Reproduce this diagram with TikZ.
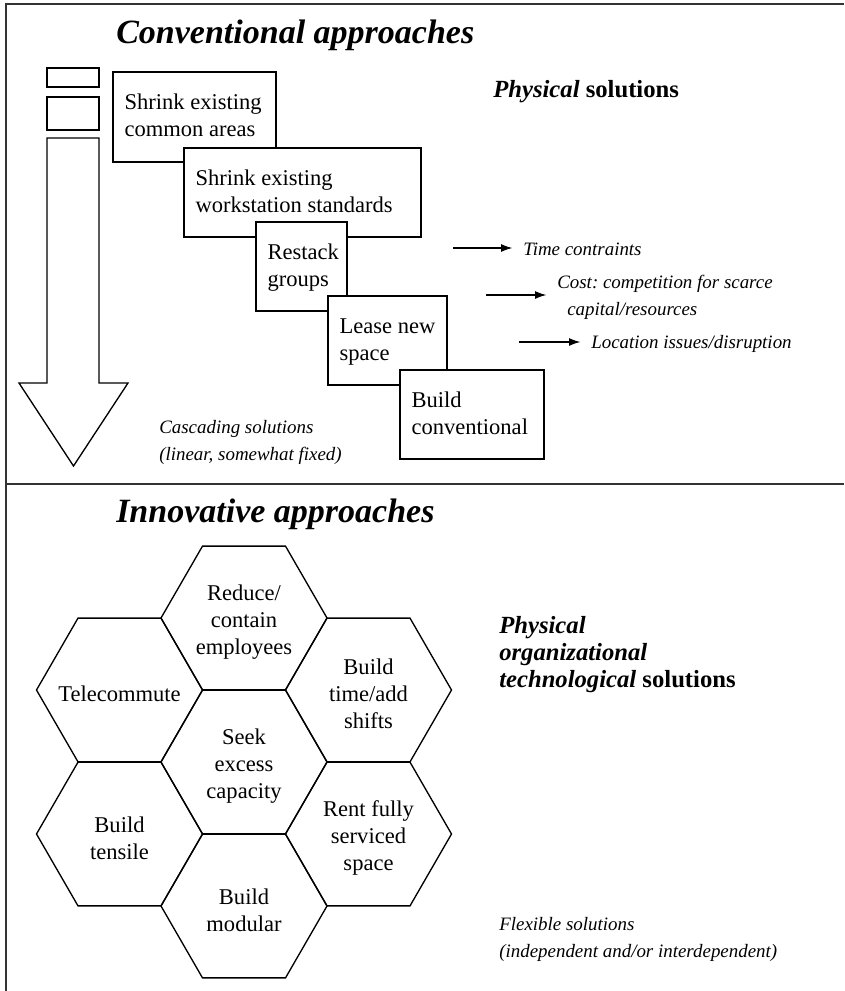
\documentclass[tikz,border=0pt]{standalone}
\usepackage{fontspec}
\setmainfont{Liberation Serif}
\usetikzlibrary{shapes.geometric,arrows.meta,calc}
\frenchspacing
\begin{document}
\begin{tikzpicture}[x=0.75pt,y=-0.75pt,
  frame/.style={line width=1.3pt,draw=black!80},
  shapeline/.style={line width=1pt},
  stage/.style={draw,fill=white,line width=1pt,rectangle,inner sep=0pt},
  stagetext/.style={anchor=base west,inner sep=0pt,align=left,font=\fontsize{16.9}{20.25}\selectfont},
  cell/.style={draw,line width=1pt,regular polygon,regular polygon sides=6,minimum size=124.5pt,inner sep=0pt},
  celltext/.style={inner sep=0pt,align=center,yshift=-3pt,font=\fontsize{16.9}{20.25}\selectfont},
  heading/.style={anchor=base west,inner sep=0pt,font=\fontsize{25.5}{30}\selectfont\bfseries\itshape},
  note/.style={anchor=base west,inner sep=0pt,align=left,font=\fontsize{14.2}{20.25}\selectfont\itshape},
  keynote/.style={anchor=base west,inner sep=0pt,align=left,font=\fontsize{18.5}{20.25}\selectfont\bfseries},
  arr/.style={-{Latex[length=8.5pt,width=6pt]},line width=0.8pt,shorten >=8pt}
]
\useasboundingbox (0,0) rectangle (844,991);

% frame: left edge, top edge and the divider between the two halves
\draw[frame] (6,991) -- (6,4) -- (844,4);
\draw[frame] (6,484) -- (844,484);

% ---------- conventional approaches ----------
\node[heading] (conv) at (116,44) {Conventional approaches};

% cascading block arrow with its two leading bars
\draw[shapeline] (47,68) rectangle (99,87);
\draw[shapeline] (47,97) rectangle (99,130);
\draw[shapeline] (47,138) -- (99,138) -- (99,383) -- (128,383) -- (73.5,466)
  -- (19,383) -- (47,383) -- cycle;

% stepped stages, each drawn over the previous one
% (two-line labels are anchored on the baseline of their last line)
\node[stage,minimum width=122.25pt,minimum height=67.5pt] (s1) at (194.5,117) {};
\node[stagetext] (s1t) at ($(s1.north west)+(12,65)$) {Shrink existing\\common areas};
\node[stage,minimum width=177.75pt,minimum height=66.75pt] (s2) at (302.5,192.5) {};
\node[stagetext] (s2t) at ($(s2.north west)+(12,65)$) {Shrink existing\\workstation standards};
\node[stage,minimum width=68.25pt,minimum height=66.75pt] (s3) at (301.5,266.5) {};
\node[stagetext] (s3t) at ($(s3.north west)+(12,65)$) {Restack\\groups};
\node[stage,minimum width=89.25pt,minimum height=66.75pt] (s4) at (387.5,340.5) {};
\node[stagetext] (s4t) at ($(s4.north west)+(12,65)$) {Lease new\\space};
\node[stage,minimum width=108pt,minimum height=66.75pt] (s5) at (472,414.5) {};
\node[stagetext] (s5t) at ($(s5.north west)+(12,65)$) {Build\\conventional};

\node[keynote] (phys) at (493,98) {\textit{Physical} solutions};

% constraints
\node[note] (c1) at (523,255) {Time contraints};
\node[note] (c2) at (557,315) {Cost: competition for scarce\\\hspace*{7.5pt}capital/resources};
\node[note] (c3) at (591,348) {Location issues/disruption};
\coordinate (a1) at (453,248);
\coordinate (a2) at (486,295);
\coordinate (a3) at (519,342);
\draw[arr] (a1) -- (a1 -| c1.west);
\draw[arr] (a2) -- (a2 -| c2.west);
\draw[arr] (a3) -- (a3 -| c3.west);

\node[note] (casc) at (159,460) {Cascading solutions\\(linear, somewhat fixed)};

% ---------- innovative approaches ----------
\node[heading] (innov) at (116,522) {Innovative approaches};

% honeycomb of cells, labels set on top of each cell
\node[cell] (h1) at (244,618) {};
\node[cell] (h2) at (119.5,690) {};
\node[cell] (h3) at (368.5,690) {};
\node[cell] (h4) at (244,762) {};
\node[cell] (h5) at (119.5,834) {};
\node[cell] (h6) at (368.5,834) {};
\node[cell] (h7) at (244,906) {};
\node[celltext] (h1t) at (h1) {Reduce/\\contain\\employees};
\node[celltext] (h2t) at (h2) {Telecommute};
\node[celltext] (h3t) at (h3) {Build\\time/add\\shifts};
\node[celltext] (h4t) at (h4) {Seek\\excess\\capacity};
\node[celltext] (h5t) at (h5) {Build\\tensile};
\node[celltext] (h6t) at (h6) {Rent fully\\serviced\\space};
\node[celltext] (h7t) at (h7) {Build\\modular};

\node[keynote] (pot) at (499,687) {\textit{Physical}\\\textit{organizational}\\\textit{technological} solutions};
\node[note] (flex) at (499,957) {Flexible solutions\\(independent and/or interdependent)};
\end{tikzpicture}
\end{document}
